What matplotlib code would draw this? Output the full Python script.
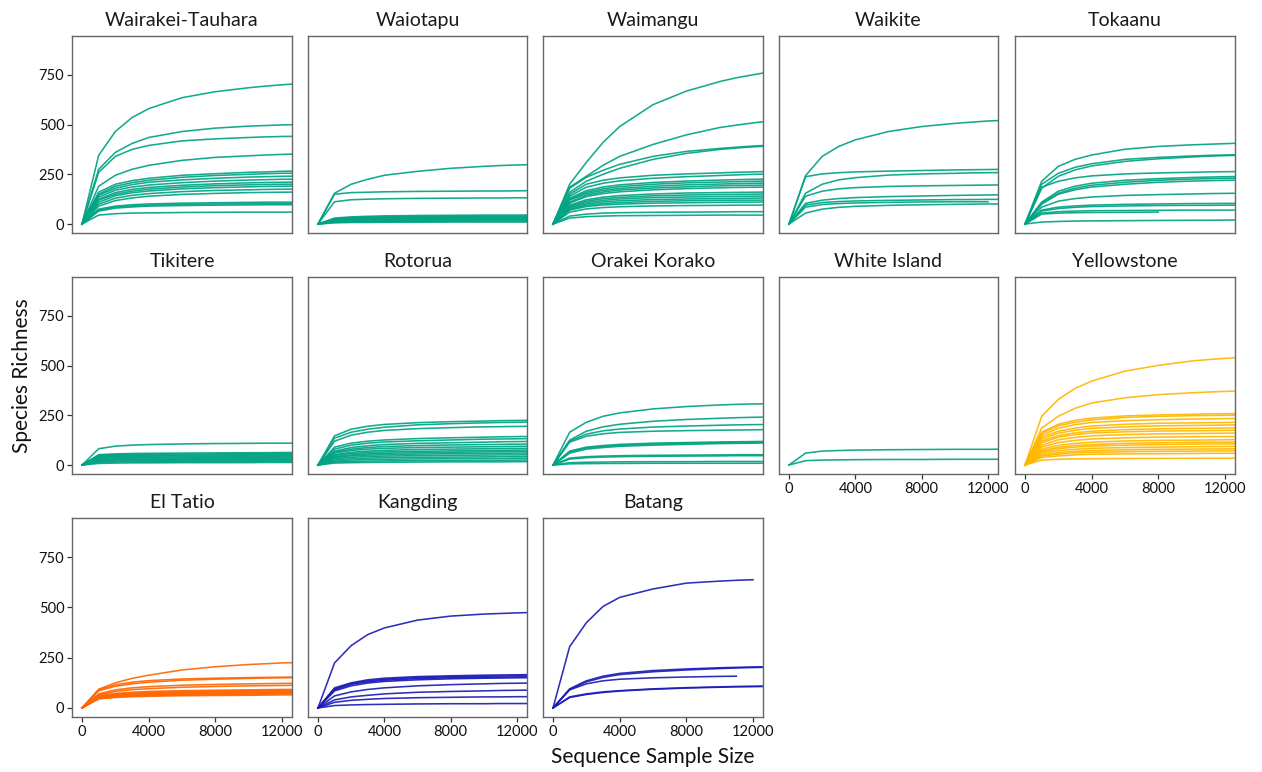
import matplotlib
matplotlib.use("Agg")
import matplotlib.pyplot as plt
import numpy as np

plt.rcParams['font.family'] = ['Lato', 'DejaVu Sans']

# sample sizes at which the rarefied richness values were read
XS = [0, 1000, 2000, 3000, 4000, 6000, 8000, 10000, 11000, 12000, 13000]

wairakei = [
    [0, 345, 465, 535, 580, 635, 665, 685, 693, 700, 705],
    [0, 275, 360, 405, 435, 465, 482, 492, 495, 498, 500],
    [0, 260, 340, 375, 395, 418, 428, 435, 438, 440, 441],
    [0, 190, 245, 275, 295, 320, 335, 343, 347, 350, 352],
    [0, 160, 200, 218, 230, 245, 253, 260, 262, 265, 267],
    [0, 150, 190, 208, 220, 235, 244, 250, 253, 255, 256],
    [0, 145, 180, 198, 210, 222, 230, 236, 238, 240, 241],
    [0, 135, 170, 186, 196, 208, 216, 221, 223, 225, 226],
    [0, 125, 158, 174, 184, 195, 202, 207, 209, 210, 211],
    [0, 120, 150, 165, 175, 186, 193, 197, 199, 200, 201],
    [0, 110, 142, 157, 166, 177, 183, 187, 189, 190, 191],
    [0, 100, 130, 144, 153, 163, 169, 172, 174, 175, 176],
    [0, 90, 118, 131, 140, 149, 154, 158, 159, 160, 161],
    [0, 75, 90, 97, 101, 105, 107, 109, 110, 110, 110],
    [0, 70, 85, 91, 95, 99, 101, 102, 103, 103, 103],
    [0, 65, 80, 86, 90, 93, 95, 96, 97, 97, 97],
    [0, 45, 52, 55, 56, 58, 59, 60, 60, 60, 60],
]
waiotapu = [
    [0, 155, 200, 225, 245, 265, 280, 290, 294, 297, 299],
    [0, 150, 158, 160, 162, 164, 165, 166, 166, 167, 168],
    [0, 112, 122, 125, 127, 129, 130, 131, 131, 132, 132],
    [0, 30, 36, 39, 41, 43, 44, 45, 45, 45, 46],
    [0, 27, 32, 35, 36, 38, 39, 40, 40, 40, 41],
    [0, 24, 29, 31, 33, 34, 35, 36, 36, 36, 36],
    [0, 21, 26, 28, 29, 30, 31, 32, 32, 32, 32],
    [0, 18, 22, 24, 25, 26, 27, 28, 28, 28, 28],
    [0, 15, 19, 20, 21, 22, 23, 24, 24, 24, 24],
    [0, 12, 15, 16, 17, 18, 19, 20, 20, 20, 20],
    [0, 9, 11, 12, 13, 14, 14, 15, 15, 15, 15],
    [0, 6, 8, 8, 9, 9, 10, 10, 10, 10, 10],
]
waimangu = [
    [0, 200, 310, 410, 490, 600, 668, 716, 735, 750, 765],
    [0, 185, 240, 295, 340, 400, 448, 485, 497, 508, 518],
    [0, 180, 235, 270, 300, 340, 365, 380, 386, 392, 396],
    [0, 160, 215, 250, 280, 325, 355, 375, 382, 388, 392],
    [0, 150, 200, 220, 232, 245, 252, 257, 260, 262, 264],
    [0, 140, 185, 205, 217, 230, 238, 244, 247, 250, 251],
    [0, 130, 168, 186, 197, 209, 216, 221, 223, 225, 226],
    [0, 125, 160, 177, 188, 200, 207, 211, 213, 215, 216],
    [0, 120, 153, 169, 179, 190, 197, 201, 203, 205, 206],
    [0, 110, 145, 161, 171, 181, 187, 192, 194, 195, 196],
    [0, 105, 138, 153, 162, 172, 178, 182, 184, 185, 186],
    [0, 95, 122, 135, 143, 151, 156, 158, 159, 160, 161],
    [0, 90, 115, 127, 134, 142, 146, 148, 149, 150, 151],
    [0, 85, 108, 119, 126, 133, 136, 138, 139, 140, 141],
    [0, 80, 101, 111, 117, 123, 126, 128, 129, 130, 131],
    [0, 75, 94, 103, 108, 114, 117, 119, 120, 120, 121],
    [0, 70, 88, 96, 100, 105, 107, 109, 110, 110, 111],
    [0, 60, 76, 83, 87, 91, 93, 94, 95, 95, 96],
    [0, 40, 50, 55, 57, 59, 60, 61, 62, 62, 62],
    [0, 30, 37, 40, 42, 43, 44, 45, 45, 45, 45],
]
waikite = [
    [0, 243, 340, 390, 423, 465, 490, 506, 512, 518, 521],
    [0, 238, 252, 258, 262, 266, 269, 272, 273, 274, 275],
    [0, 155, 200, 222, 233, 246, 252, 255, 257, 258, 259],
    [0, 140, 165, 177, 183, 189, 192, 194, 195, 196, 197],
    [0, 104, 120, 128, 133, 138, 141, 144, 145, 146, 147],
    [0, 95, 108, 113, 116, 119, 121, 123, 123, 124, 124],
    [0, 85, 98, 103, 106, 109, 111, 112, 112, 112, None],
    [0, 55, 75, 84, 89, 94, 97, 99, 100, 101, 101],
]
tokaanu = [
    [0, 215, 290, 325, 347, 376, 390, 398, 401, 404, 407],
    [0, 200, 255, 285, 303, 325, 335, 342, 345, 347, 348],
    [0, 180, 240, 272, 292, 315, 328, 337, 341, 344, 346],
    [0, 185, 215, 232, 242, 252, 257, 260, 262, 263, 264],
    [0, 110, 165, 190, 205, 220, 228, 234, 236, 238, 239],
    [0, 105, 155, 180, 195, 210, 220, 226, 228, 230, 231],
    [0, 100, 150, 172, 186, 200, 210, 216, 218, 220, 221],
    [0, 85, 115, 128, 136, 144, 148, 151, 153, 154, 155],
    [0, 70, 85, 91, 95, 99, 101, 103, 103, 104, 104],
    [0, 65, 78, 84, 88, 91, 93, 94, 94, 95, 95],
    [0, 55, 62, 65, 67, 68, 69, 70, 70, 70, 70],
    [0, 50, 55, 57, 58, 59, 60, None, None, None, None],
    [0, 10, 13, 15, 16, 17, 18, 19, 19, 20, 20],
]
tikitere = [
    [0, 82, 95, 100, 103, 106, 108, 109, 110, 110, 110],
    [0, 52, 56, 58, 59, 60, 61, 62, 62, 63, 63],
    [0, 48, 52, 53, 54, 55, 56, 57, 57, 58, 58],
    [0, 44, 47, 48, 49, 50, 51, 52, 52, 53, 53],
    [0, 40, 43, 44, 45, 46, 46, 47, 47, 48, 48],
    [0, 36, 38, 39, 40, 41, 41, 42, 42, 43, 43],
    [0, 32, 34, 35, 36, 36, 37, 37, 38, 38, 38],
    [0, 27, 29, 30, 31, 31, 32, 32, 33, 33, 33],
    [0, 23, 25, 26, 26, 27, 27, 28, 28, 28, 28],
    [0, 18, 20, 21, 21, 22, 22, 23, 23, 23, 23],
    [0, 14, 15, 16, 16, 17, 17, 18, 18, 18, 18],
    [0, 8, 10, 11, 11, 12, 12, 12, 13, 13, 13],
]
rotorua = [
    [0, 147, 180, 195, 204, 213, 218, 221, 223, 224, 225],
    [0, 135, 165, 180, 190, 202, 208, 212, 214, 215, 216],
    [0, 120, 150, 165, 174, 183, 188, 192, 193, 194, 195],
    [0, 90, 110, 120, 126, 133, 137, 140, 142, 143, 144],
    [0, 80, 100, 110, 116, 122, 126, 130, 131, 132, 133],
    [0, 70, 88, 97, 103, 109, 112, 115, 117, 118, 119],
    [0, 65, 80, 88, 93, 98, 101, 103, 104, 105, 106],
    [0, 60, 73, 80, 84, 88, 90, 92, 93, 94, 95],
    [0, 52, 64, 70, 74, 78, 80, 82, 83, 84, 84],
    [0, 48, 58, 63, 66, 69, 71, 73, 74, 75, 75],
    [0, 42, 51, 56, 59, 62, 64, 66, 67, 68, 68],
    [0, 38, 46, 50, 52, 55, 57, 58, 59, 60, 60],
    [0, 32, 39, 43, 45, 47, 49, 50, 51, 51, 52],
    [0, 26, 32, 35, 37, 39, 40, 41, 42, 42, 43],
    [0, 20, 25, 28, 29, 31, 32, 33, 33, 34, 34],
    [0, 15, 18, 20, 21, 22, 23, 24, 24, 25, 25],
    [0, 10, 12, 13, 14, 15, 16, 16, 16, 17, 17],
]
orakei = [
    [0, 165, 215, 245, 262, 282, 294, 302, 305, 307, 308],
    [0, 125, 170, 192, 205, 220, 229, 235, 238, 240, 241],
    [0, 120, 155, 172, 181, 191, 196, 200, 202, 203, 204],
    [0, 115, 145, 157, 164, 170, 173, 175, 176, 177, 178],
    [0, 70, 90, 98, 104, 110, 113, 116, 117, 118, 119],
    [0, 65, 85, 93, 99, 105, 109, 112, 113, 114, 115],
    [0, 60, 80, 88, 94, 100, 104, 108, 109, 110, 111],
    [0, 35, 42, 45, 47, 49, 50, 51, 52, 52, 52],
    [0, 30, 37, 40, 42, 44, 45, 46, 47, 47, 47],
    [0, 12, 14, 15, 16, 17, 17, 18, 18, 18, 18],
    [0, 6, 7, 8, 8, 9, 9, 9, 9, 9, 9],
]
white_island = [
    [0, 60, 70, 73, 75, 77, 78, 79, 79, 79, 80],
    [0, 22, 25, 26, 27, 28, 28, 29, 29, 29, 29],
]
yellowstone = [
    [0, 245, 330, 385, 422, 472, 501, 523, 530, 536, 542],
    [0, 186, 245, 285, 312, 338, 354, 363, 367, 370, 373],
    [0, 165, 205, 225, 236, 247, 252, 255, 257, 258, 259],
    [0, 160, 197, 215, 227, 239, 245, 248, 249, 250, 251],
    [0, 150, 185, 203, 214, 223, 228, 231, 232, 233, 234],
    [0, 140, 170, 186, 196, 205, 210, 212, 213, 214, 215],
    [0, 130, 160, 175, 184, 192, 197, 199, 200, 201, 202],
    [0, 120, 148, 162, 170, 178, 182, 184, 185, 186, 187],
    [0, 112, 140, 153, 161, 167, 171, 172, 173, 174, 175],
    [0, 100, 127, 139, 147, 153, 157, 158, 159, 160, 161],
    [0, 90, 113, 124, 131, 137, 140, 142, 143, 143, 144],
    [0, 80, 99, 109, 115, 121, 124, 125, 126, 127, 128],
    [0, 72, 89, 98, 103, 109, 112, 114, 115, 115, 116],
    [0, 66, 82, 90, 95, 100, 103, 105, 106, 106, 107],
    [0, 58, 72, 79, 84, 88, 90, 92, 93, 93, 94],
    [0, 50, 62, 69, 73, 77, 79, 80, 81, 81, 82],
    [0, 45, 55, 61, 64, 67, 69, 70, 71, 71, 72],
    [0, 38, 46, 51, 54, 56, 57, 58, 59, 59, 60],
    [0, 25, 29, 31, 32, 33, 33, 34, 34, 34, 35],
]
el_tatio = [
    [0, 93, 125, 147, 163, 189, 205, 216, 220, 224, 226],
    [0, 90, 115, 128, 136, 144, 148, 151, 152, 153, 154],
    [0, 85, 108, 120, 128, 138, 143, 147, 149, 150, 151],
    [0, 70, 90, 100, 106, 113, 117, 120, 121, 122, 123],
    [0, 65, 82, 91, 96, 103, 107, 110, 111, 112, 113],
    [0, 60, 72, 78, 82, 86, 88, 90, 91, 92, 92],
    [0, 57, 68, 74, 77, 81, 84, 86, 86, 87, 87],
    [0, 55, 65, 70, 73, 77, 79, 81, 81, 82, 82],
    [0, 52, 62, 66, 69, 72, 75, 76, 77, 78, 78],
    [0, 50, 59, 63, 66, 69, 71, 72, 73, 74, 74],
    [0, 48, 56, 60, 62, 65, 67, 68, 69, 70, 70],
    [0, 45, 52, 56, 58, 61, 62, 63, 64, 65, 65],
]
kangding = [
    [0, 224, 310, 365, 398, 437, 457, 467, 470, 473, 475],
    [0, 100, 125, 140, 148, 156, 160, 163, 164, 165, 166],
    [0, 95, 120, 135, 143, 151, 155, 158, 159, 160, 161],
    [0, 90, 118, 130, 138, 146, 150, 152, 153, 154, 155],
    [0, 85, 110, 124, 132, 140, 145, 148, 149, 150, 151],
    [0, 60, 80, 92, 100, 110, 116, 120, 122, 123, 124],
    [0, 40, 55, 63, 70, 78, 82, 85, 87, 88, 89],
    [0, 28, 38, 43, 47, 51, 53, 55, 55, 56, 56],
    [0, 12, 15, 17, 18, 20, 21, 21, 22, 22, 22],
]
batang = [
    [0, 305, 424, 505, 550, 592, 621, 631, 635, 638, None],
    [0, 95, 135, 158, 172, 186, 194, 200, 202, 204, 205],
    [0, 92, 130, 152, 166, 180, 189, 196, 199, 201, 203],
    [0, 90, 120, 135, 143, 150, 154, 157, 158, None, None],
    [0, 55, 70, 80, 86, 95, 101, 105, 107, 108, 109],
    [0, 52, 67, 77, 84, 93, 99, 103, 105, 106, 107],
]

SITES = ["Wairakei-Tauhara", "Waiotapu", "Waimangu", "Waikite", "Tokaanu",
         "Tikitere", "Rotorua", "Orakei Korako", "White Island", "Yellowstone",
         "El Tatio", "Kangding", "Batang"]
SITE_CURVES = [wairakei, waiotapu, waimangu, waikite, tokaanu,
               tikitere, rotorua, orakei, white_island, yellowstone,
               el_tatio, kangding, batang]
GREEN, YELLOW, ORANGE, BLUE = "#00A383", "#FFB700", "#FF6600", "#1C1CB8"
SITE_COLORS = [GREEN] * 9 + [YELLOW, ORANGE, BLUE, BLUE]

Y_TICKS = [0, 250, 500, 750]
X_TICKS = [0, 4000, 8000, 12000]

W, H = 1262, 772
fig = plt.figure(figsize=(W / 100, H / 100), dpi=100)

cols = [(72, 292), (308, 527), (543, 763), (779, 998), (1015, 1235)]
rows = [(36, 233), (277, 474), (518, 717)]
x_bottom_panels = {"White Island", "Yellowstone", "El Tatio", "Kangding", "Batang"}

for i, (site, curves, color) in enumerate(zip(SITES, SITE_CURVES, SITE_COLORS)):
    r, c = divmod(i, 5)
    x0, x1 = cols[c]
    y0, y1 = rows[r]
    ax = fig.add_axes([x0 / W, 1 - y1 / H, (x1 - x0) / W, (y1 - y0) / H])
    for cv in curves:
        vals = np.array([np.nan if v is None else v for v in cv], dtype=float)
        ax.plot(XS, vals, color=color, lw=1.15, alpha=0.92, solid_joinstyle='round')
    ax.set_xlim(-600, 12600)
    ax.set_ylim(-45, 945)
    ax.set_title(site, fontsize=14, color="#1a1a1a", pad=7)
    for sp in ax.spines.values():
        sp.set_color("#666666")
        sp.set_linewidth(1.0)
    ax.set_yticks(Y_TICKS)
    ax.set_xticks(X_TICKS)
    ax.tick_params(axis='both', length=3.5, width=0.9, color="#333333",
                   labelsize=10.5, labelcolor="#111111", pad=2)
    if c != 0:
        ax.tick_params(axis='y', length=0, labelleft=False)
    if site not in x_bottom_panels:
        ax.tick_params(axis='x', length=0, labelbottom=False)

fig.text(22 / W, 1 - 376 / H, "Species Richness", rotation=90, fontsize=15,
         ha='center', va='center', color="#111111")
fig.text(653 / W, 1 - 757 / H, "Sequence Sample Size", fontsize=15,
         ha='center', va='center', color="#111111")

fig.savefig("out.png", dpi=100)
